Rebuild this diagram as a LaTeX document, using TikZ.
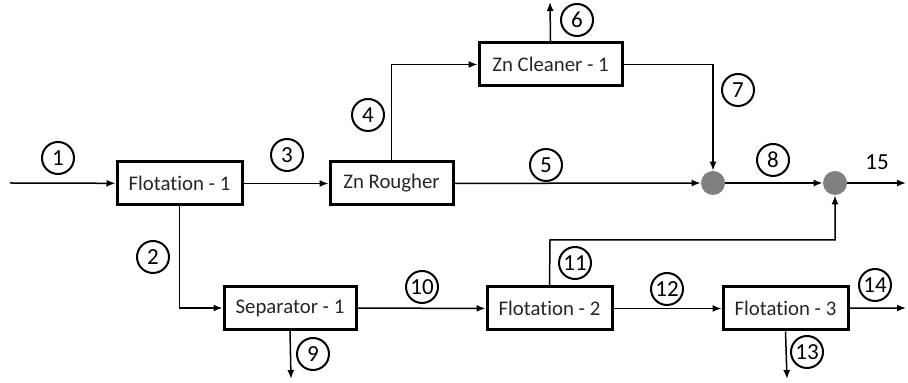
\documentclass[tikz,border=0pt]{standalone}
\usepackage{fontspec}
\setmainfont{Carlito}[Ligatures=NoCommon]
\usetikzlibrary{arrows.meta}

\definecolor{mixgray}{RGB}{128,128,128}

\begin{document}
\begin{tikzpicture}[x=0.5pt, y=-0.5pt,
    unit/.style={draw, line width=1.5pt, minimum height=21.5pt, inner sep=0pt, text=black!85,
        font=\fontsize{10.4}{12}\selectfont},
    tag/.style={circle, draw, line width=1pt, minimum size=16pt, inner sep=0pt,
        font=\fontsize{11.5}{12}\selectfont},
    mixer/.style={circle, fill=mixgray, minimum size=12pt, inner sep=0pt},
    flow/.style={line width=0.75pt, -{Latex[length=4.5pt, width=3.5pt]}}]
    \useasboundingbox (0,0) rectangle (908,383);

    % Process units
    \node[unit, minimum width=62.5pt] (flot1) at (179.5,183.5) {Flotation - 1};
    \node[unit, minimum width=61.5pt] (rougher) at (391.5,183.5) {Zn Rougher};
    \node[unit, minimum width=71.5pt] (cleaner) at (550.5,64.5) {Zn Cleaner - 1};
    \node[unit, minimum width=66pt] (sep1) at (290,308) {Separator - 1};
    \node[unit, minimum width=62.5pt] (flot2) at (549.5,308.5) {Flotation - 2};
    \node[unit, minimum width=62.5pt] (flot3) at (785.5,308.5) {Flotation - 3};

    % Mixing points
    \node[mixer] (mix1) at (713,183) {};
    \node[mixer] (mix2) at (835,183) {};

    % Feed, product and tailings ends
    \coordinate (feed) at (10,183);
    \coordinate (out6) at (550,2);
    \coordinate (out9) at (291,379);
    \coordinate (out13) at (787,379);
    \coordinate (out14) at (906,308);
    \coordinate (out15) at (906,183);
    \coordinate (bend11) at (550,240);

    % Streams
    \draw[flow] (feed) -- (flot1);
    \draw[flow] (flot1) -- (rougher);
    \draw[flow] (rougher.north) |- (cleaner.west);
    \draw[flow] (cleaner.north) -- (out6);
    \draw[flow] (cleaner.east) -| (mix1.north);
    \draw[flow] (rougher) -- (mix1);
    \draw[flow] (mix1) -- (mix2);
    \draw[flow] (mix2) -- (out15);
    \draw[flow] (flot1.south) |- (sep1.west);
    \draw[flow] (sep1.south) -- (out9);
    \draw[flow] (sep1) -- (flot2);
    \draw[flow] (flot2.north) -- (bend11) -| (mix2.south);
    \draw[flow] (flot2) -- (flot3);
    \draw[flow] (flot3.south) -- (out13);
    \draw[flow] (flot3) -- (out14);

    % Stream numbers
    \node[tag] (t1) at (58,158) {1};
    \node[tag] (t2) at (153,257) {2};
    \node[tag] (t3) at (287,155) {3};
    \node[tag] (t4) at (368,115) {4};
    \node[tag] (t5) at (546,165) {5};
    \node[tag] (t6) at (577,20) {6};
    \node[tag] (t7) at (738,90) {7};
    \node[tag] (t8) at (773,160) {8};
    \node[tag] (t9) at (313,354) {9};
    \node[tag] (t10) at (422,287) {10};
    \node[tag] (t11) at (575,263) {11};
    \node[tag] (t12) at (667,289) {12};
    \node[tag] (t13) at (807,352) {13};
    \node[tag] (t14) at (875,285) {14};
    \node[font=\fontsize{11.5}{12}\selectfont] (t15) at (877,162) {15};
\end{tikzpicture}
\end{document}
